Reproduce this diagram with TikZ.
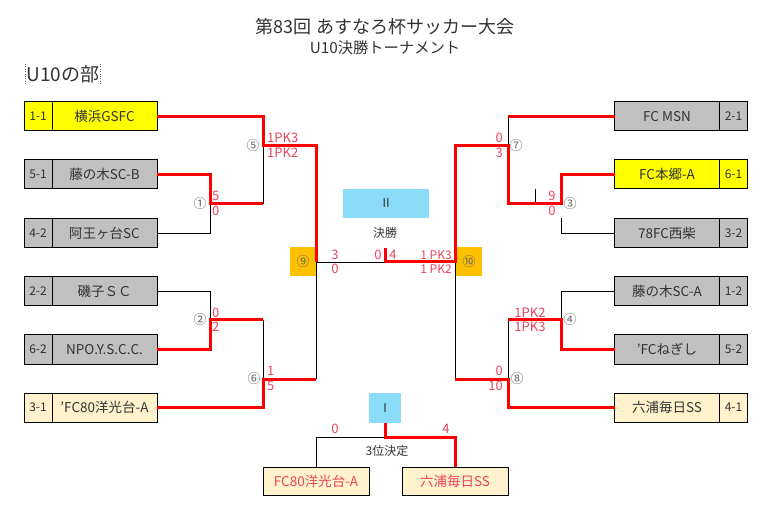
\documentclass[tikz,border=0pt]{standalone}
\usepackage{fontspec}
\setmainfont{Noto Sans CJK JP}
\usetikzlibrary{positioning}
\definecolor{seedyellow}{HTML}{FFFF00}
\definecolor{cellgray}{HTML}{C0C0C0}
\definecolor{cellcream}{HTML}{FFF2CC}
\definecolor{boxblue}{HTML}{8ADCF8}
\definecolor{boxorange}{HTML}{FFC000}
\definecolor{winred}{HTML}{FF0000}
\definecolor{scorered}{HTML}{E8455E}
\definecolor{numgray}{HTML}{666666}
\definecolor{txt}{HTML}{333333}
\newcommand{\apos}{\symbol{39}}
\tikzset{
  team/.style={draw, line width=1pt, minimum height=29pt, inner sep=0pt, outer sep=0pt, text=txt, font=\fontsize{13.5}{15}\selectfont},
  namecell/.style={team, minimum width=105pt},
  numcell/.style={team, minimum width=28pt, font=\fontsize{12}{14}\selectfont},
  win/.style={draw=winred, line width=3pt},
  lose/.style={draw=black, line width=0.8pt},
  score/.style={text=scorered, inner sep=0pt, font=\fontsize{13}{15}\selectfont},
  matchno/.style={text=numgray, inner sep=0pt, font=\fontsize{13}{15}\selectfont},
  roundbox/.style={inner sep=0pt, text=txt, minimum height=29pt, font=\fontsize{12}{14}\selectfont},
}
\begin{document}
\begin{tikzpicture}[x=1pt,y=-1pt]
\useasboundingbox[fill=white] (0,0) rectangle (768,510);
% titles
\node[text=txt, font=\fontsize{18}{20}\selectfont] (title) at (385,27) {第83回 あすなろ杯サッカー大会};
\node[text=txt, font=\fontsize{15.3}{17}\selectfont] (subtitle) at (385,48) {U10決勝トーナメント};
\node[text=txt, font=\fontsize{19}{21}\selectfont, inner sep=1pt] (part) at (63,74) {U10の部};
\draw[numgray, dotted, thin] (part.north west) -- (part.south west);
\draw[numgray, dotted, thin] (part.north east) -- (part.south east);
% left teams
\node[namecell, fill=seedyellow] (L1) at (104.5,116.5) {横浜GSFC};
\node[numcell, fill=seedyellow, left=0pt of L1] (L1n) {1-1};
\node[namecell, fill=cellgray] (L2) at (104.5,174.5) {藤の木SC-B};
\node[numcell, fill=cellgray, left=0pt of L2] (L2n) {5-1};
\node[namecell, fill=cellgray] (L3) at (104.5,233) {阿王ヶ台SC};
\node[numcell, fill=cellgray, left=0pt of L3] (L3n) {4-2};
\node[namecell, fill=cellgray] (L4) at (104.5,291.5) {磯子ＳＣ};
\node[numcell, fill=cellgray, left=0pt of L4] (L4n) {2-2};
\node[namecell, fill=cellgray] (L5) at (104.5,349.5) {NPO.Y.S.C.C.};
\node[numcell, fill=cellgray, left=0pt of L5] (L5n) {6-2};
\node[namecell, fill=cellcream] (L6) at (104.5,407.5) {\apos FC80洋光台-A};
\node[numcell, fill=cellcream, left=0pt of L6] (L6n) {3-1};
% right teams
\node[namecell, fill=cellgray] (R1) at (667,116.5) {FC MSN};
\node[numcell, fill=cellgray, right=0pt of R1] (R1n) {2-1};
\node[namecell, fill=seedyellow] (R2) at (667,174.5) {FC本郷-A};
\node[numcell, fill=seedyellow, right=0pt of R2] (R2n) {6-1};
\node[namecell, fill=cellgray] (R3) at (667,233) {78FC西柴};
\node[numcell, fill=cellgray, right=0pt of R3] (R3n) {3-2};
\node[namecell, fill=cellgray] (R4) at (667,291.5) {藤の木SC-A};
\node[numcell, fill=cellgray, right=0pt of R4] (R4n) {1-2};
\node[namecell, fill=cellgray] (R5) at (667,349.5) {\apos FCねぎし};
\node[numcell, fill=cellgray, right=0pt of R5] (R5n) {5-2};
\node[namecell, fill=cellcream] (R6) at (667,407.5) {六浦毎日SS};
\node[numcell, fill=cellcream, right=0pt of R6] (R6n) {4-1};
% semi final boxes and round boxes
\node[roundbox, fill=boxorange, minimum width=26pt, text=numgray, font=\fontsize{13}{15}\selectfont] (semiL) at (303,262) {⑨};
\node[roundbox, fill=boxorange, minimum width=26pt, text=numgray, font=\fontsize{13}{15}\selectfont] (semiR) at (469,262) {⑩};
\node[roundbox, fill=boxblue, minimum width=86pt] (final) at (386,203.5) {Ⅱ};
\node[roundbox, fill=boxblue, minimum width=32pt, minimum height=30pt] (third) at (385,408) {Ⅰ};
\node[text=txt, font=\fontsize{12}{14}\selectfont] (finallbl) at (385,233) {決勝};
\node[text=txt, font=\fontsize{12}{14}\selectfont] (thirdlbl) at (387,451) {3位決定};
% third place teams
\node[namecell, fill=cellcream, minimum width=106pt, minimum height=28pt, text=scorered] (B1) at (316,481) {FC80洋光台-A};
\node[namecell, fill=cellcream, minimum width=106pt, minimum height=28pt, text=scorered] (B2) at (455,481) {六浦毎日SS};
% match points
\coordinate (m1) at (210,204);
\coordinate (m2) at (210,320);
\coordinate (m5) at (263,146);
\coordinate (m6) at (263,379);
\coordinate (m9) at (316,262);
\coordinate (m3) at (561,204);
\coordinate (m3b) at (561,218);
\coordinate (m4) at (561,320);
\coordinate (m7) at (508,146);
\coordinate (m8) at (508,379);
\coordinate (m10) at (455,262);
\coordinate (fin) at (385,262);
\coordinate (m11) at (385,437);
\coordinate (tickA) at (535,189);
\coordinate (tickB) at (535,204);
% left side lines
\draw[lose] (L3.east) -| (m1);
\draw[lose] (m5) -- (m1 -| m5);
\draw[lose] (L4.east) -| (m2);
\draw[lose] (m2 -| m6) -- (m6);
\draw[lose] (m6 -| m9) -- (m9);
\draw[lose] (m9) -- (fin);
\draw[win] (L2.east) -| (m1) -- (m1 -| m5);
\draw[win] (L5.east) -| (m2) -- (m2 -| m6);
\draw[win] (L6.east) -| (m6) -- (m6 -| m9);
\draw[win] (L1.east) -| (m5) -| (m9);
% right side lines
\draw[lose] (R1.west -| m7) -- (m7);
\draw[lose] (R3.west) -| (m3b);
\draw[lose] (tickA) -- (tickB);
\draw[lose] (R4.west) -| (m4);
\draw[lose] (m4 -| m8) -- (m8);
\draw[lose] (m8 -| m10) -- (m10);
\draw[win] (R1.west) -- (R1.west -| m7);
\draw[win] (R5.west) -| (m4) -- (m4 -| m8);
\draw[win] (R6.west) -| (m8) -- (m8 -| m10);
\draw[win] (R2.west) -| (m3) -- (m3 -| m7) -- (m7) -| (m10) -- (fin) -- ++(0,-14);
% third place lines
\draw[lose] (m11) -| (B1.north);
\draw[win] (third.south) -- (m11) -| (B2.north);
% match numbers
\node[matchno] (n1) at (200,204) {①};
\node[matchno] (n2) at (200,320) {②};
\node[matchno] (n5) at (253,146) {⑤};
\node[matchno] (n6) at (254,379) {⑥};
\node[matchno] (n3) at (570,204) {③};
\node[matchno] (n4) at (570,320) {④};
\node[matchno] (n7) at (516,146) {⑦};
\node[matchno] (n8) at (517,379) {⑧};
% scores left
\node[score, anchor=west] (s5a) at (267,138) {1PK3};
\node[score, anchor=west] (s5b) at (267,153) {1PK2};
\node[score, anchor=west] (s1a) at (212,196) {5};
\node[score, anchor=west] (s1b) at (212,211) {0};
\node[score, anchor=west] (s2a) at (212,313) {0};
\node[score, anchor=west] (s2b) at (212,327) {2};
\node[score, anchor=west] (s6a) at (267,371) {1};
\node[score, anchor=west] (s6b) at (267,386) {5};
% scores centre
\node[score] (s9a) at (335,255) {3};
\node[score] (s9b) at (335,269) {0};
\node[score] (sfa) at (378,255) {0};
\node[score] (sfb) at (393,255) {4};
\node[score, font=\fontsize{12}{14}\selectfont] (s10a) at (436,255) {1 PK3};
\node[score, font=\fontsize{12}{14}\selectfont] (s10b) at (436,269) {1 PK2};
\node[score] (s11a) at (335,429) {0};
\node[score] (s11b) at (446,429) {4};
% scores right
\node[score, anchor=east] (s7a) at (503,138) {0};
\node[score, anchor=east] (s7b) at (503,153) {3};
\node[score] (s3a) at (552,196) {9};
\node[score] (s3b) at (552,211) {0};
\node[score] (s4a) at (530,313) {1PK2};
\node[score] (s4b) at (530,327) {1PK3};
\node[score, anchor=east] (s8a) at (503,371) {0};
\node[score, anchor=east] (s8b) at (503,386) {10};
\end{tikzpicture}
\end{document}
